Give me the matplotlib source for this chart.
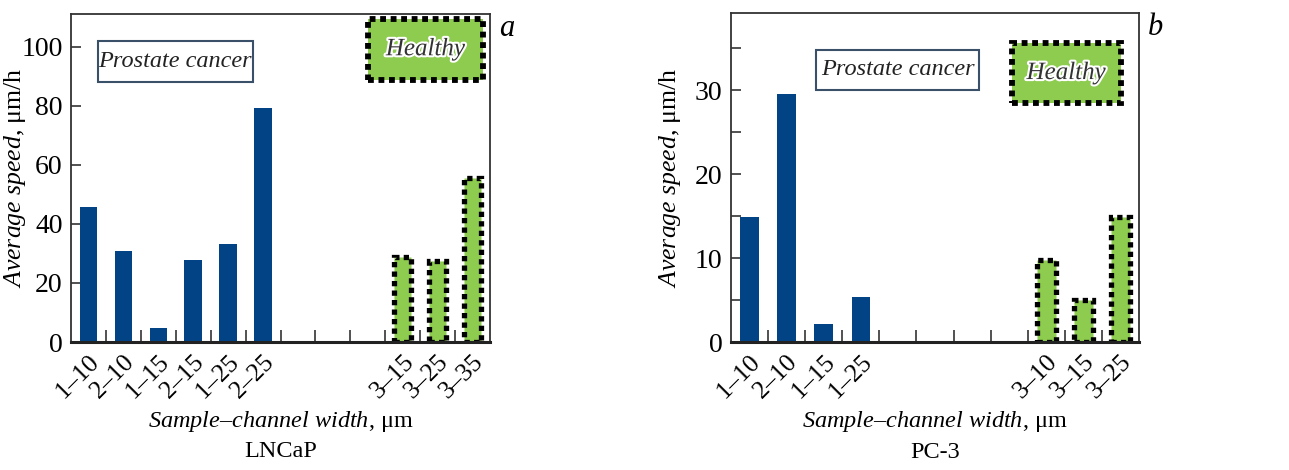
import matplotlib
matplotlib.use("Agg")
import matplotlib.pyplot as plt
from matplotlib.patches import Rectangle
import matplotlib.patheffects as pe

plt.rcParams['font.family'] = ['Liberation Serif', 'DejaVu Serif']
plt.rcParams['mathtext.fontset'] = 'custom'
plt.rcParams['mathtext.rm'] = 'Liberation Serif'
plt.rcParams['mathtext.it'] = 'Liberation Serif:italic'

# Panel a: LNCaP
a_cancer_labels = ["1–10", "2–10", "1–15", "2–15", "1–25", "2–25"]
a_cancer_values = [45.8, 30.7, 4.9, 27.9, 33.3, 79.3]
a_healthy_labels = ["3–15", "3–25", "3–35"]
a_healthy_values = [28.6, 27.5, 55.6]
a_slots = 12
a_cancer_pos = [0, 1, 2, 3, 4, 5]
a_healthy_pos = [9, 10, 11]
a_yticks = [0, 20, 40, 60, 80, 100]
a_ylim = 111

# Panel b: PC-3
b_cancer_labels = ["1–10", "2–10", "1–15", "1–25"]
b_cancer_values = [14.85, 29.6, 2.1, 5.4]
b_healthy_labels = ["3–10", "3–15", "3–25"]
b_healthy_values = [9.8, 5.0, 14.9]
b_slots = 11
b_cancer_pos = [0, 1, 2, 3]
b_healthy_pos = [8, 9, 10]
b_yticks = [0, 5, 10, 15, 20, 25, 30, 35]
b_ylim = 39.2

BLUE = "#024385"
GREEN = "#8dcc4e"
SPINE = "#333333"

W, H = 1289, 470
fig = plt.figure(figsize=(W / 100, H / 100), dpi=100)


def panel(rect, cl, cv, cp, hl, hv, hp, slots, yticks, ylim, cname,
          pc_box, h_box, letter, ylab_x):
    ax = fig.add_axes(rect)
    ax.bar([p + 0.5 for p in cp], cv, width=0.5, color=BLUE, zorder=2)
    ax.bar([p + 0.5 for p in hp], hv, width=0.5, color=GREEN,
           edgecolor="black", linewidth=3.8, linestyle=(0, (1, 0.8)),
           zorder=2)
    ax.set_xlim(0, slots)
    ax.set_ylim(0, ylim)
    ax.set_xticks([p + 0.5 for p in cp + hp])
    ax.set_xticklabels(cl + hl, rotation=45, ha="right",
                       rotation_mode="anchor", fontsize=18.5)
    ax.tick_params(axis="x", length=0, pad=6)
    ax.set_xticks(list(range(1, slots)), minor=True)
    ax.tick_params(axis="x", which="minor", direction="in", length=9,
                   width=1.2, color=SPINE)
    ax.set_yticks(yticks)
    ax.set_yticklabels([str(t) if t % (20 if ylim > 50 else 10) == 0 else ""
                        for t in yticks], fontsize=20)
    ax.tick_params(axis="y", direction="in", length=7, width=1.2,
                   color=SPINE, pad=6)
    for s in ax.spines.values():
        s.set_color(SPINE)
        s.set_linewidth(1.3)
    ax.spines["bottom"].set_linewidth(2.2)
    ax.spines["bottom"].set_color("#222222")
    ax.set_ylabel(r"$\it{Average\ speed}$, μm/h", fontsize=18.5)
    ax.yaxis.set_label_coords(ylab_x, 0.5)
    ax.set_xlabel(r"$\it{Sample–channel\ width}$, μm" + "\n" + cname,
                  fontsize=17.5, linespacing=1.45)
    ax.xaxis.set_label_coords(0.5, -0.205)

    x0, y0, x1, y1 = pc_box
    ax.add_patch(Rectangle((x0, y0), x1 - x0, y1 - y0,
                           transform=ax.transAxes, facecolor="white",
                           edgecolor="#3a5068", linewidth=1.5, zorder=3))
    ax.text((x0 + x1) / 2, (y0 + y1) / 2, "Prostate cancer",
            transform=ax.transAxes, ha="center", va="center",
            style="italic", fontsize=17.5, color="#222222", zorder=4)

    x0, y0, x1, y1 = h_box
    ax.add_patch(Rectangle((x0, y0), x1 - x0, y1 - y0,
                           transform=ax.transAxes, facecolor=GREEN,
                           edgecolor="black", linewidth=4.2,
                           linestyle=(0, (1, 0.8)), zorder=3,
                           clip_on=False))
    t = ax.text((x0 + x1) / 2, (y0 + y1) / 2, "Healthy",
                transform=ax.transAxes, ha="center", va="center",
                style="italic", fontsize=18, color="#333333", zorder=4)
    t.set_path_effects([pe.withStroke(linewidth=3, foreground="white")])

    ax.text(1.022, 0.955, letter, transform=ax.transAxes, ha="left",
            va="center", style="italic", fontsize=22)
    return ax


panel([71 / W, 128 / H, 419 / W, 328 / H],
      a_cancer_labels, a_cancer_values, a_cancer_pos,
      a_healthy_labels, a_healthy_values, a_healthy_pos,
      a_slots, a_yticks, a_ylim, "LNCaP",
      (0.064, 0.793, 0.434, 0.918), (0.708, 0.80, 0.984, 0.985), "a",
      -0.103)

panel([731 / W, 128 / H, 408 / W, 329 / H],
      b_cancer_labels, b_cancer_values, b_cancer_pos,
      b_healthy_labels, b_healthy_values, b_healthy_pos,
      b_slots, b_yticks, b_ylim, "PC-3",
      (0.208, 0.766, 0.608, 0.888), (0.688, 0.727, 0.955, 0.908), "b",
      -0.118)

fig.savefig("out.png", dpi=100)
